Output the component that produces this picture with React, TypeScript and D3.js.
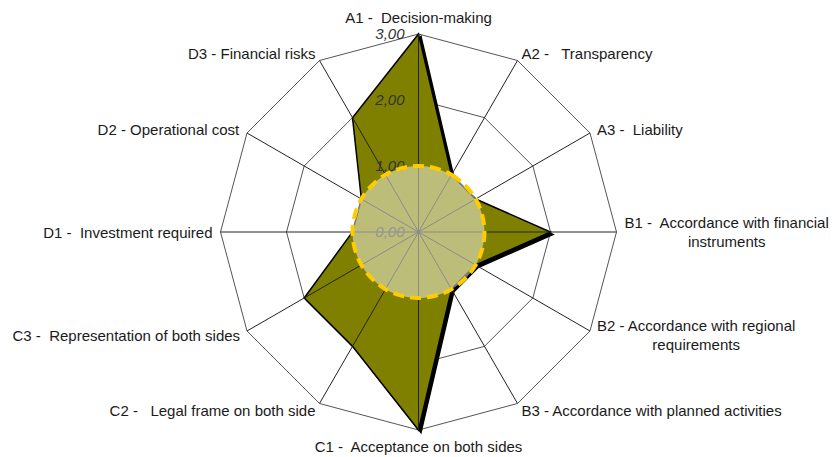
import React, { useEffect, useRef } from 'react';
import * as d3 from 'd3';

const categories: string[] = [
  'A1 -  Decision-making',
  'A2 -   Transparency',
  'A3 -  Liability',
  'B1 -  Accordance with financial\ninstruments',
  'B2 - Accordance with regional\nrequirements',
  'B3 - Accordance with planned activities',
  'C1 -  Acceptance on both sides',
  'C2 -   Legal frame on both side',
  'C3 -  Representation of both sides',
  'D1 -  Investment required',
  'D2 - Operational cost',
  'D3 - Financial risks',
];
const assessment: number[] = [3, 1, 1, 2, 1, 1, 3, 2, 2, 1, 1, 2];
const baseline: number[] = [1, 1, 1, 1, 1, 1, 1, 1, 1, 1, 1, 1];
const tickValues: number[] = [0, 1, 2, 3];
const tickLabels: string[] = ['0,00', '1,00', '2,00', '3,00'];

const W = 839;
const H = 457;
const CX = 418.5;
const CY = 232;
const R = 198;
const FONT = '"Liberation Sans", Arial, sans-serif';

export default function App() {
  const ref = useRef<SVGSVGElement>(null);

  useEffect(() => {
    const svg = d3.select(ref.current);
    svg.selectAll('*').remove();
    const n = categories.length;
    const angle = d3.scaleLinear().domain([0, n]).range([0, 2 * Math.PI]);
    const r = d3.scaleLinear().domain([0, 3]).range([0, R]);
    const g = svg.append('g').attr('transform', `translate(${CX},${CY})`);
    const idx = d3.range(n);

    const radial = (vals: number[]) =>
      d3
        .lineRadial<number>()
        .angle((_, i) => angle(i))
        .radius((d) => r(d))
        .curve(d3.curveLinearClosed)(vals) as string;

    // rings
    tickValues.filter((t) => t > 0).forEach((t) => {
      g.append('path')
        .attr('d', radial(idx.map(() => t)))
        .attr('fill', 'none')
        .attr('stroke', '#555')
        .attr('stroke-width', 1);
    });

    // shadow
    g.append('path')
      .attr('d', radial(assessment))
      .attr('transform', 'translate(2.5,2.5)')
      .attr('fill', '#000')
      .attr('stroke', '#000')
      .attr('stroke-width', 1.5);

    // main series
    g.append('path')
      .attr('d', radial(assessment))
      .attr('fill', '#808000')
      .attr('stroke', '#000')
      .attr('stroke-width', 1.5)
      .attr('stroke-linejoin', 'miter');

    // spokes
    idx.forEach((i) => {
      const a = angle(i);
      g.append('line')
        .attr('x1', 0)
        .attr('y1', 0)
        .attr('x2', r(3) * Math.sin(a))
        .attr('y2', -r(3) * Math.cos(a))
        .attr('stroke', '#222')
        .attr('stroke-width', 1);
    });

    // tick labels
    tickValues.forEach((t, i) => {
      g.append('text')
        .attr('x', -14)
        .attr('y', -r(t))
        .attr('dy', '0.35em')
        .attr('text-anchor', 'end')
        .attr('font-family', FONT)
        .attr('font-style', 'italic')
        .attr('font-size', 15)
        .attr('fill', '#333')
        .text(tickLabels[i]);
    });

    // baseline series (smooth)
    g.append('path')
      .attr(
        'd',
        d3
          .lineRadial<number>()
          .angle((_, i) => angle(i))
          .radius((d) => r(d))
          .curve(d3.curveCatmullRomClosed.alpha(0.5))(baseline) as string
      )
      .attr('fill', '#ffffff')
      .attr('fill-opacity', 0.48)
      .attr('stroke', '#FFCC00')
      .attr('stroke-width', 4)
      .attr('stroke-dasharray', '11 6');

    // category labels
    categories.forEach((c, i) => {
      const a = angle(i);
      const dx = Math.sin(a);
      const dy = -Math.cos(a);
      const px = (r(3) + 8) * dx;
      const py = (r(3) + 8) * dy;
      const lg = g.append('g');
      const text = lg
        .append('text')
        .attr('font-family', FONT)
        .attr('font-size', 15)
        .attr('fill', '#1a1a1a')
        .attr('text-anchor', 'middle')
        .style('white-space', 'pre');
      c.split('\n').forEach((line, k) => {
        text
          .append('tspan')
          .attr('x', 0)
          .attr('y', k * 19)
          .text(line);
      });
      const bb = (text.node() as SVGTextElement).getBBox();
      let left: number;
      if (Math.abs(dx) < 0.01) left = px - bb.width / 2;
      else if (dx > 0) left = px;
      else left = px - bb.width;
      let cy = py;
      if (Math.abs(dx) < 0.01) cy = py + (dy * bb.height) / 2;
      lg.attr(
        'transform',
        `translate(${left - bb.x},${cy - (bb.y + bb.height / 2)})`
      );
    });
  }, []);

  return (
    <svg
      ref={ref}
      width={W}
      height={H}
      style={{ position: 'absolute', left: 0, top: 0, background: '#fff' }}
    />
  );
}
